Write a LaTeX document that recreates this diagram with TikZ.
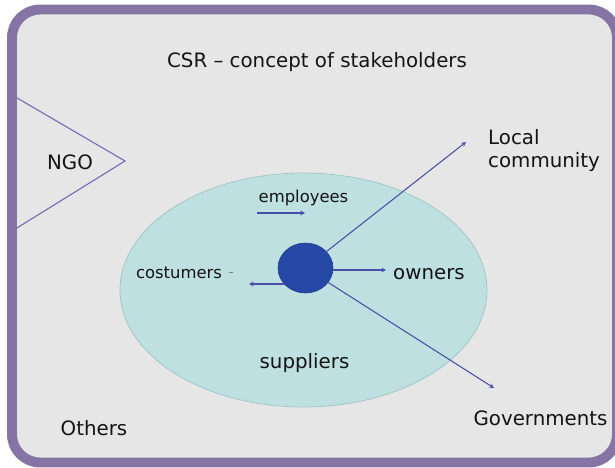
\documentclass[tikz,border=0pt]{standalone}
\usepackage{fontspec}
\setmainfont{DejaVu Sans}
\usepackage{tikz}
\usetikzlibrary{shapes.geometric, arrows.meta, positioning}
\definecolor{FramePurple}{RGB}{134, 116, 164}
\definecolor{PanelGrey}{RGB}{230, 230, 230}
\definecolor{RingTeal}{RGB}{191, 224, 224}
\definecolor{RingEdge}{RGB}{160, 196, 196}
\definecolor{HubBlue}{RGB}{38, 72, 166}
\definecolor{ArrowBlue}{RGB}{72, 78, 168}
\definecolor{WedgeViolet}{RGB}{112, 102, 182}
\definecolor{InkBlack}{RGB}{20, 20, 20}

\tikzset{
    lbl/.style={inner sep=0pt, text=InkBlack, font=\fontsize{16.9}{18.8}\selectfont},
    small lbl/.style={lbl, font=\fontsize{14}{16}\selectfont},
    link/.style={ArrowBlue, line width=0.9pt, -{Stealth[length=4pt, width=4pt]}}
}

\begin{document}
\begin{tikzpicture}[x=0.03cm, y=-0.03cm]
    \useasboundingbox (0,0) rectangle (615,467);
    \clip (0,0) rectangle (615,467);

    % Panel
    \fill[PanelGrey, rounded corners=24pt] (12,9.5) rectangle (617,462.5);

    % Title
    \node[lbl, anchor=base] (title) at (317,67) {CSR – concept of stakeholders};

    % NGO wedge
    \coordinate (ngo-top) at (12,95);
    \coordinate (ngo-tip) at (125,161);
    \coordinate (ngo-bot) at (12,231);
    \draw[WedgeViolet, line width=0.9pt] (ngo-top) -- (ngo-tip) -- (ngo-bot);
    \node[lbl, anchor=base] (ngo) at (70,169) {NGO};

    % Stakeholder ring and company
    \node[ellipse, fill=RingTeal, draw=RingEdge, line width=0.6pt,
          minimum width=11.01cm, minimum height=7.02cm] (ring) at (303.5,290) {};
    \node[ellipse, fill=HubBlue, draw=HubBlue!85!black, line width=0.5pt,
          minimum width=1.65cm, minimum height=1.5cm] (hub) at (305.5,268) {};

    % Labels
    \node[small lbl, anchor=base] (emp) at (303.5,202) {employees};
    \node[small lbl, anchor=base] (cost) at (179,278) {costumers};
    \node[lbl, anchor=base west] (own) at (393,279) {owners};
    \node[lbl, anchor=base] (supp) at (304.5,368) {suppliers};
    \node[lbl, anchor=base west, align=left] (local) at (488,167) {Local\\community};
    \node[lbl, anchor=base] (gov) at (540.5,425) {Governments};
    \node[lbl, anchor=base] (others) at (94,435) {Others};

    % Arrow ends
    \coordinate (emp-a) at (257,213);
    \coordinate (emp-b) at (305,213);
    \coordinate (own-end) at (386,270);
    \coordinate (cost-end) at (249,284);
    \coordinate (local-end) at (466,142);
    \coordinate (gov-end) at (494,388);

    % Arrows
    \draw[link] (emp-a) -- (emp-b);
    \draw[link] (hub.east |- own-end) -- (own-end);
    \draw[link] (hub.220 |- cost-end) -- (cost-end);
    \draw[link] (hub) -- (local-end);
    \draw[link] (hub) -- (gov-end);
    \draw[gray, line width=0.6pt] ([xshift=6pt]cost.east |- 0,272) -- ++(4,0);

    % Frame
    \draw[FramePurple, line width=8.5pt, rounded corners=24pt] (12,9.5) rectangle (617,462.5);
\end{tikzpicture}
\end{document}
